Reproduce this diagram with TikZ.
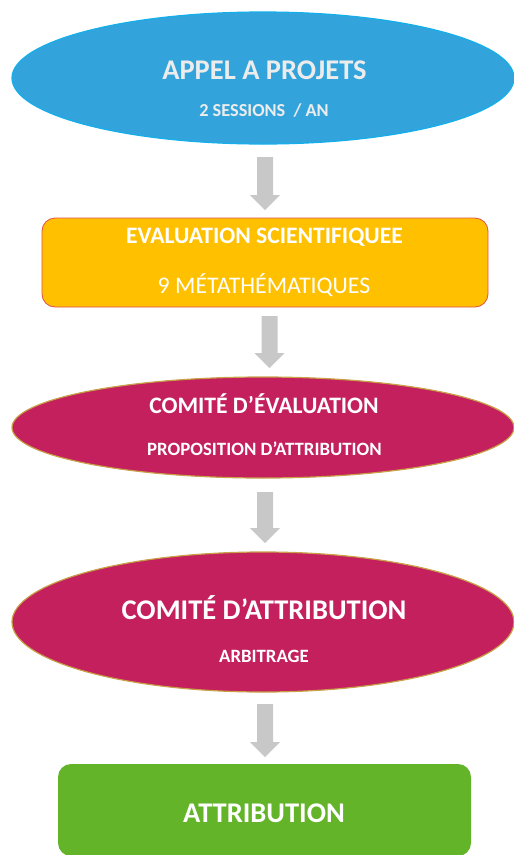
\documentclass[tikz,border=0pt]{standalone}
\usepackage{fontspec}
\setmainfont{Carlito}
\usetikzlibrary{shapes.geometric}
\definecolor{bluefill}{HTML}{33A4DB}
\definecolor{blueborder}{HTML}{14AEEA}
\definecolor{orangefill}{HTML}{FFC000}
\definecolor{orangeborder}{HTML}{E0504A}
\definecolor{redfill}{HTML}{C4205E}
\definecolor{goldborder}{HTML}{C8A048}
\definecolor{greenfill}{HTML}{64B42A}
\definecolor{arrowgray}{HTML}{C8C8C8}
\definecolor{lighttext}{HTML}{ECECEC}
\tikzset{
  oval/.style={ellipse, inner sep=0pt, line width=1.2pt},
  roundbox/.style={rectangle, rounded corners=13pt, inner sep=0pt},
  txt/.style={anchor=base, inner sep=0pt, text=white},
  big/.style={font=\fontsize{28.5}{30}\selectfont\bfseries},
  mid/.style={font=\fontsize{23.6}{26}\selectfont\bfseries},
  midreg/.style={font=\fontsize{23.8}{26}\selectfont},
  small/.style={font=\fontsize{18.3}{20}\selectfont\bfseries},
  smaller/.style={font=\fontsize{18.8}{21}\selectfont\bfseries},
}
\newcommand\grayarrow[3]{% x, top y, tip y
  \fill[arrowgray] (#1-8,#2) -- (#1+8,#2) -- (#1+8,#3-15) -- (#1+15,#3-15)
    -- (#1,#3) -- (#1-15,#3-15) -- (#1-8,#3-15) -- cycle;}
\begin{document}
\begin{tikzpicture}[x=1pt,y=-1pt]
\useasboundingbox (0,0) rectangle (514,855);
\begin{scope}
\clip (0,0) rectangle (514,855);
% shapes
\node[oval, draw=blueborder, fill=bluefill, minimum width=502pt, minimum height=132pt] (appel) at (263,78) {};
\node[roundbox, draw=orangeborder, line width=0.8pt, fill=orangefill, minimum width=446pt, minimum height=89pt] (evalsci) at (265,262.5) {};
\node[oval, draw=goldborder, fill=redfill, minimum width=502pt, minimum height=101pt] (comeval) at (263,427.5) {};
\node[oval, draw=goldborder, fill=redfill, minimum width=502pt, minimum height=140pt] (comattr) at (263,622) {};
\node[roundbox, fill=greenfill, minimum width=413pt, minimum height=92pt] (attr) at (264.5,810) {};
% texts
\node[txt, big, text=lighttext] (appel1) at (264.5,79) {APPEL A PROJETS};
\node[txt, small, text=lighttext] (appel2) at (264,116) {2 SESSIONS~~/ AN};
\node[txt, mid] (evalsci1) at (264.5,243) {EVALUATION SCIENTIFIQUEE};
\node[txt, midreg] (evalsci2) at (264,293) {9 MÉTATHÉMATIQUES};
\node[txt, mid] (comeval1) at (264,413) {COMITÉ D’ÉVALUATION};
\node[txt, smaller] (comeval2) at (264.5,455) {PROPOSITION D’ATTRIBUTION};
\node[txt, big] (comattr1) at (264,619) {COMITÉ D’ATTRIBUTION};
\node[txt, smaller] (comattr2) at (264,662) {ARBITRAGE};
\node[txt, big] (attr1) at (264,822) {ATTRIBUTION};
% arrows
\grayarrow{265}{157}{210}
\grayarrow{269.5}{316}{368}
\grayarrow{265}{492}{543}
\grayarrow{265}{704}{757}
\end{scope}
\end{tikzpicture}
\end{document}
